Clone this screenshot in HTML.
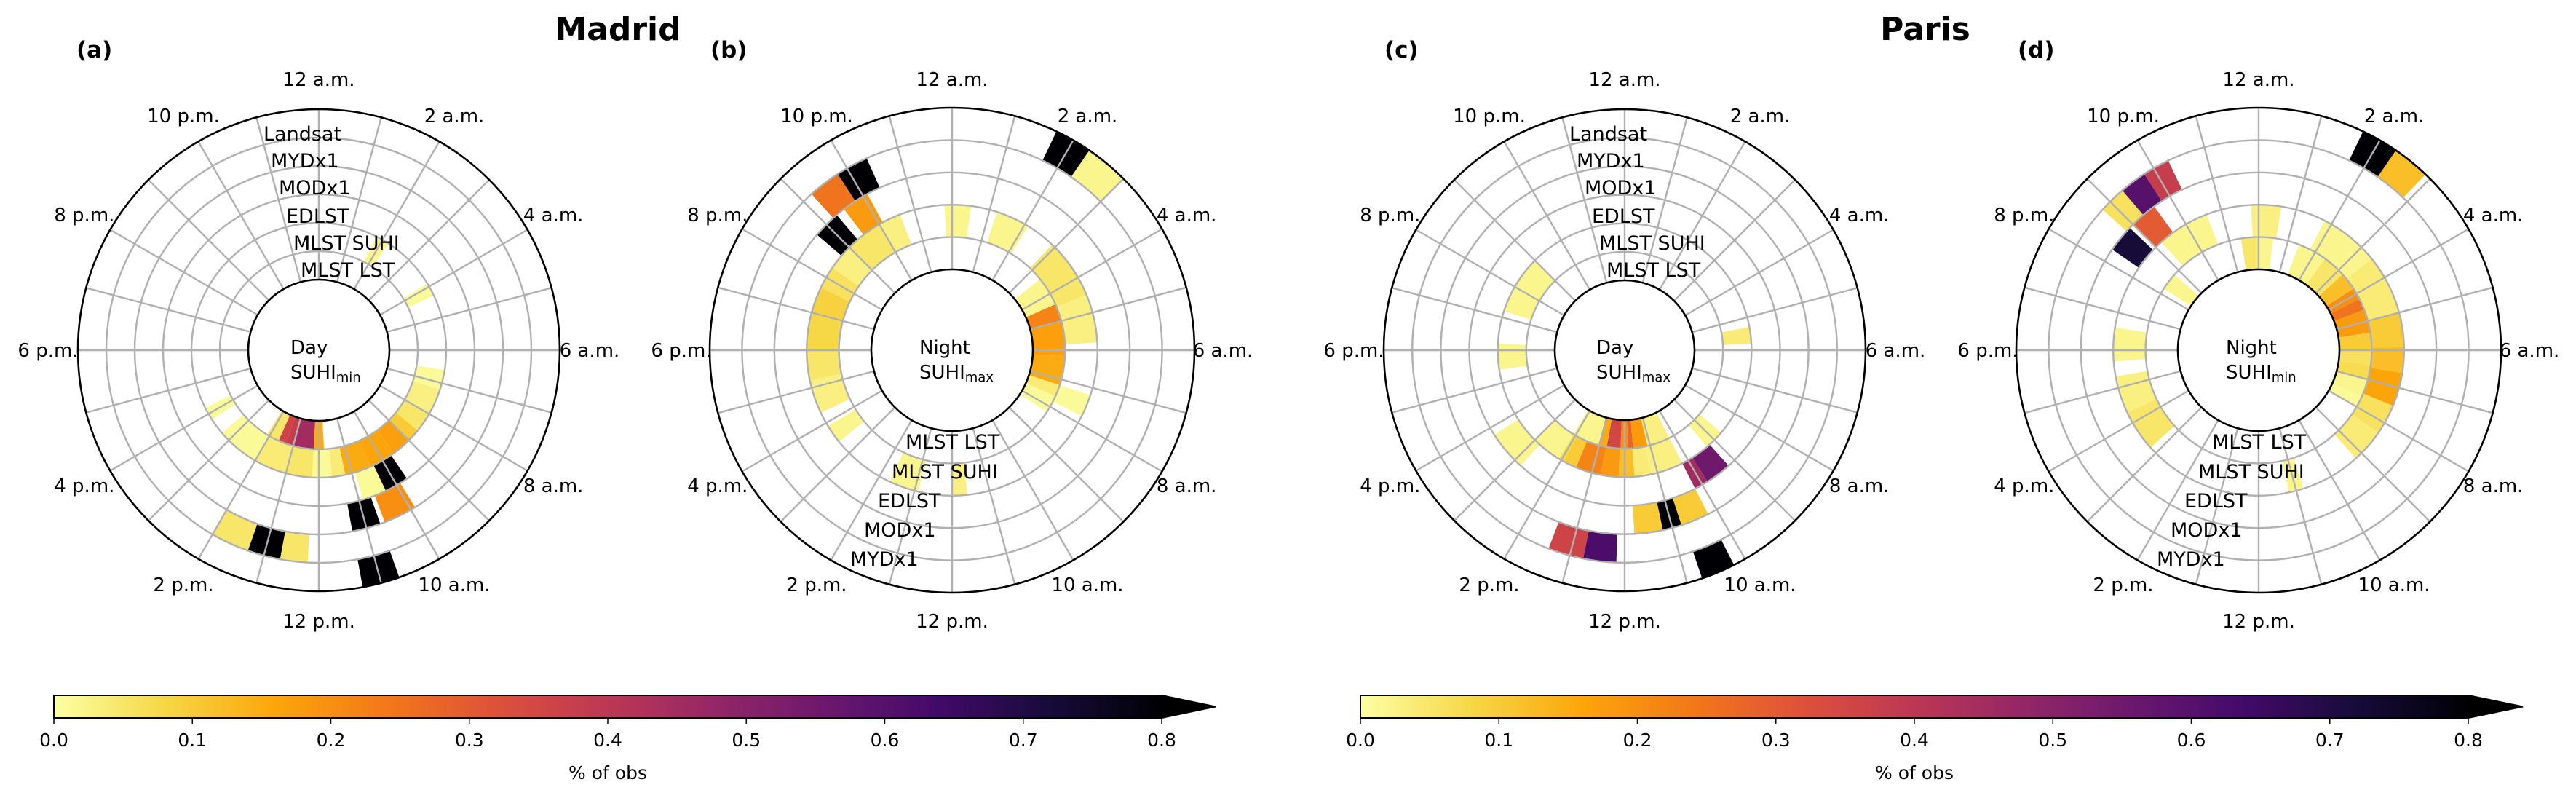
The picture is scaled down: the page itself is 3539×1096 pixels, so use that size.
<!DOCTYPE html>
<html><head><meta charset="utf-8"><style>
html,body{margin:0;padding:0;background:#fff;}
svg{display:block;font-family:"DejaVu Sans","Liberation Sans",sans-serif;}
</style></head><body>
<svg id="fig" width="3539" height="1096" viewBox="0 0 3539 1096" xmlns="http://www.w3.org/2000/svg">
<defs>
<linearGradient id="cbgrad" x1="0" x2="1" y1="0" y2="0"></linearGradient>
</defs>
<text x="849" y="55" font-size="44" font-weight="bold" text-anchor="middle">Madrid</text>
<text x="2645" y="55" font-size="44" font-weight="bold" text-anchor="middle">Paris</text>
<g id="panels"></g>
<g id="colorbars"></g>
</svg>
<script>
// ---- Panel (a) Madrid Day SUHImin ----
const aRing  = [0,0,0,0,0, 1,1,1,1,1,1,1,1,1,1,1,1,1,1,1, 2,2, 3,3, 4,4,4, 5];
const aStart = [11.8,12.2,13.0,13.3,13.6, 6.6,7.2,8.0,8.6,9.0,9.6,10.4,11.2,11.6,12.2,13.0,14.0,15.8,1.8,3.9, 10.3,9.7, 10.7,9.9, 12.7,13.3,12.2, 10.7];
const aEnd   = [12.2,13.0,13.3,13.6,14.1, 7.2,8.0,8.6,9.0,9.6,10.4,11.2,11.6,12.2,13.0,14.0,15.3,16.2,2.2,4.3, 10.9,10.3, 11.3,10.6, 13.3,14.0,12.7, 11.3];
const aVal   = [0.15,0.45,0.38,0.36,0.05, 0.01,0.03,0.05,0.1,0.17,0.16,0.15,0.04,0.01,0.05,0.04,0.01,0.01,0.02,0.01, 0.01,0.8, 0.8,0.2, 0.8,0.05,0.05, 0.8];
// ---- Panel (b) Madrid Night SUHImax ----
const bRing  = [0,0,0,0,0,0, 1,1,1,1,1,1,1,1,1,1,1,1,1,1,1,1, 2,2, 3,3, 4,4];
const bStart = [3.4,4.4,5.0,6.2,7.2,7.6, 12.9,11.6,15.4,16.3,17.2,18.0,19.0,19.7,20.3,21.0,22.0,23.8,1.2,2.9,4.5,7.2, 21.5,20.7, 21.8,21.2, 1.7,2.3];
const bEnd   = [4.4,5.0,6.2,7.2,7.6,8.2, 13.7,12.0,15.9,17.2,18.0,19.0,19.7,20.3,21.0,22.0,22.6,24.5,2.1,4.5,5.8,7.8, 22.1,21.3, 22.4,21.8, 2.3,3.0];
const bVal   = [0.02,0.22,0.17,0.15,0.04,0.01, 0.02,0.03,0.02,0.03,0.05,0.08,0.09,0.06,0.03,0.05,0.03,0.02,0.02,0.05,0.03,0.01, 0.18,0.8, 0.8,0.25, 0.8,0.02];
// ---- Panel (c) Paris Day SUHImax ----
const cRing  = [0,0,0,0,0,0,0, 1,1,1,1,1,1,1,1,1,1,1,1, 2,2,2, 3,3,3, 4,4, 5];
const cStart = [12.97,12.7,12.16,11.87,11.67,11.1,10.2, 13.5,12.73,12.18,11.7,11.2,10.2,14.07,17.4,19.2,5.3,8.7,13.9, 14.8,9.85,9.2, 10.8,11.2,10.2, 12.75,12.15, 10.2];
const cEnd   = [14.1,12.97,12.7,12.16,11.87,11.67,11.1, 14.07,13.5,12.73,12.18,11.7,11.2,15.0,18.2,21.0,5.8,9.3,14.07, 15.8,10.2,9.85, 11.2,11.8,10.8, 13.4,12.75, 10.75];
const cVal   = [0.02,0.15,0.35,0.2,0.28,0.18,0.03, 0.1,0.22,0.18,0.12,0.04,0.03,0.02,0.02,0.02,0.04,0.02,0.08, 0.02,0.45,0.55, 0.8,0.1,0.1, 0.36,0.62, 0.8];
// ---- Panel (d) Paris Night SUHImin ----
const dRing  = [0,0,0,0,0,0,0,0,0,0,0,0,0,0, 1,1,1,1,1,1,1,1,1,1,1,1,1, 2,2, 3,3,3, 4,4];
const dStart = [1.4,2.4,3.2,3.8,4.2,4.6,5.4,6.0,6.5,7.0,7.6,23.4,0.0,20.2, 23.8,21.2,1.8,3.4,5.0,5.9,6.6,7.5,8.3,17.7,15.2,16.3,10.8, 21.0,20.3, 21.3,21.8,20.8, 1.7,2.3];
const dEnd   = [2.4,3.2,3.8,4.2,4.6,5.4,6.0,6.5,7.0,7.6,8.0,24.0,0.5,20.8, 24.6,22.6,3.4,5.0,5.9,6.6,7.5,8.3,9.2,18.6,16.3,17.3,11.2, 21.6,20.9, 21.8,22.3,21.3, 2.3,2.9];
const dVal   = [0.02,0.05,0.12,0.2,0.25,0.18,0.1,0.06,0.07,0.02,0.01,0.05,0.02,0.02, 0.03,0.02,0.02,0.04,0.1,0.12,0.16,0.06,0.04,0.02,0.05,0.03,0.02, 0.3,0.72, 0.6,0.38,0.06, 0.8,0.12];
// ---- Axes ----
const hourTicks = [0,2,4,6,8,10,12,14,16,18,20,22];
const hourTickLabels = ["12 a.m.","2 a.m.","4 a.m.","6 a.m.","8 a.m.","10 a.m.","12 p.m.","2 p.m.","4 p.m.","6 p.m.","8 p.m.","10 p.m."];
const dayRingLabels = ["MLST LST","MLST SUHI","EDLST","MODx1","MYDx1","Landsat"];
const nightRingLabels = ["MLST LST","MLST SUHI","EDLST","MODx1","MYDx1"];
const cbTicks = [0,0.1,0.2,0.3,0.4,0.5,0.6,0.7,0.8];
const cbTickLabels = ["0.0","0.1","0.2","0.3","0.4","0.5","0.6","0.7","0.8"];
const vmax = 0.8;

const NS = "http://www.w3.org/2000/svg";
const infernoStops = [[0,0,4],[22,11,57],[66,10,104],[106,23,110],[147,38,103],[188,55,84],[221,81,58],[243,120,25],[252,165,10],[246,215,70],[252,255,164]];
function cmap(v){
  let t = 1 - Math.max(0, Math.min(1, v / vmax));
  const p = t * 10, i = Math.min(9, Math.floor(p)), f = p - i;
  const a = infernoStops[i], b = infernoStops[i+1];
  return "rgb(" + [0,1,2].map(k => Math.round(a[k] + (b[k]-a[k])*f)).join(",") + ")";
}
function el(tag, attrs, parent){
  const e = document.createElementNS(NS, tag);
  for (const k in attrs) e.setAttribute(k, attrs[k]);
  parent.appendChild(e);
  return e;
}
function pt(cx, cy, r, h){ const t = h * Math.PI / 12; return [cx + r*Math.sin(t), cy - r*Math.cos(t)]; }
function sector(cx, cy, r1, r2, h1, h2){
  const a = pt(cx,cy,r2,h1), b = pt(cx,cy,r2,h2), c = pt(cx,cy,r1,h2), d = pt(cx,cy,r1,h1);
  const large = (h2 - h1) > 12 ? 1 : 0;
  return `M${a[0]},${a[1]} A${r2},${r2} 0 ${large} 1 ${b[0]},${b[1]} L${c[0]},${c[1]} A${r1},${r1} 0 ${large} 0 ${d[0]},${d[1]} Z`;
}
const panelsG = document.getElementById("panels");
const panels = [
  {id:"a", cx:438, cy:481, hole:97, outer:331, n:6, day:true, sub:"min", ring:aRing, start:aStart, end:aEnd, val:aVal, letterX:105},
  {id:"b", cx:1308, cy:481, hole:111, outer:333, n:5, day:false, sub:"max", ring:bRing, start:bStart, end:bEnd, val:bVal, letterX:976},
  {id:"c", cx:2232, cy:481, hole:96, outer:331, n:6, day:true, sub:"max", ring:cRing, start:cStart, end:cEnd, val:cVal, letterX:1902},
  {id:"d", cx:3103, cy:481, hole:111, outer:333, n:5, day:false, sub:"min", ring:dRing, start:dStart, end:dEnd, val:dVal, letterX:2772}
];
const dayLabelPos = [[-25,-111],[-35,-148],[-45,-185],[-55,-224],[-66,-261],[-76,-298]];
const nightLabelPos = [[-64,125],[-83,166],[-102,206],[-121,246],[-140,286]];
panels.forEach(p => {
  const g = el("g", {}, panelsG);
  
  
  const rw = (p.outer - p.hole) / p.n;
  for (let i = 0; i < p.val.length; i++){
    const r1 = p.hole + p.ring[i]*rw, r2 = r1 + rw;
    const c = el("path", {d: sector(p.cx,p.cy,r1,r2,p.start[i],p.end[i]), fill: cmap(p.val[i])}, g);
    
    
  }
  for (let k = 1; k < p.n; k++){
    const ci = el("circle", {cx:p.cx, cy:p.cy, r:p.hole + k*rw, fill:"none", stroke:"#b0b0b0", "stroke-width":2.4}, g);
    
    
  }
  for (let h = 0; h < 24; h++){
    const a = pt(p.cx,p.cy,p.hole,h), b = pt(p.cx,p.cy,p.outer,h);
    const s = el("line", {x1:a[0], y1:a[1], x2:b[0], y2:b[1], stroke:"#b0b0b0", "stroke-width":2.4}, g);
    
    
  }
  const oc = el("circle", {cx:p.cx, cy:p.cy, r:p.outer, fill:"none", stroke:"#000", "stroke-width":2.6}, g);
  
  
  const hc = el("circle", {cx:p.cx, cy:p.cy, r:p.hole, fill:"#fff", stroke:"#000", "stroke-width":2.6}, g);
  
  
  hourTicks.forEach((h, i) => {
    const q = pt(p.cx, p.cy, 372, h);
    const t = el("text", {x:q[0], y:q[1]+9, "font-size":26, "text-anchor":"middle"}, g);
    t.textContent = hourTickLabels[i];
    
    
  });
  const labs = p.day ? dayRingLabels : nightRingLabels;
  const pos = p.day ? dayLabelPos : nightLabelPos;
  labs.forEach((l, i) => {
    const t = el("text", {x:p.cx+pos[i][0], y:p.cy+pos[i][1]+10, "font-size":27}, g);
    t.textContent = l;
    
    
  });
  const t1 = el("text", {x:p.cx + (p.day?-39:-45), y:p.cy+5, "font-size":26}, g);
  t1.textContent = p.day ? "Day" : "Night";
  
  
  const t2 = el("text", {x:p.cx + (p.day?-39:-45), y:p.cy+39, "font-size":26}, g);
  
  
  const s1 = el("tspan", {}, t2); s1.textContent = "SUHI";
  const s2 = el("tspan", {"font-size":18, dy:4}, t2); s2.textContent = p.sub;
  const lt = el("text", {x:p.letterX, y:79, "font-size":31, "font-weight":"bold"}, g);
  lt.textContent = "(" + p.id + ")";
  
  
});
const grad = document.getElementById("cbgrad");
for (let i = 0; i <= 40; i++){
  el("stop", {offset: (i/40), "stop-color": cmap(vmax*i/40)}, grad);
}
const cbG = document.getElementById("colorbars");
[[74,1596,1670],[1869,3391,3466]].forEach((c, j) => {
  const g = el("g", {}, cbG);
  
  
  const y0 = 955, y1 = 986;
  el("rect", {x:c[0], y:y0, width:c[1]-c[0], height:y1-y0, fill:"url(#cbgrad)"}, g);
  el("path", {d:`M${c[1]},${y0} L${c[2]},${(y0+y1)/2} L${c[1]},${y1} Z`, fill:"#000"}, g);
  el("path", {d:`M${c[0]},${y0} L${c[1]},${y0} L${c[2]},${(y0+y1)/2} L${c[1]},${y1} L${c[0]},${y1} Z`, fill:"none", stroke:"#000", "stroke-width":2}, g);
  cbTicks.forEach((v, i) => {
    const x = c[0] + (c[1]-c[0]) * v / vmax;
    el("line", {x1:x, y1:y1, x2:x, y2:y1+8, stroke:"#000", "stroke-width":1.5}, g);
    const t = el("text", {x:x, y:1025, "font-size":25, "text-anchor":"middle"}, g);
    t.textContent = cbTickLabels[i];
    
    
  });
  const lb = el("text", {x:(c[0]+c[1])/2, y:1070, "font-size":25, "text-anchor":"middle"}, g);
  lb.textContent = "% of obs";
  
  
});
</script>
</body></html>
